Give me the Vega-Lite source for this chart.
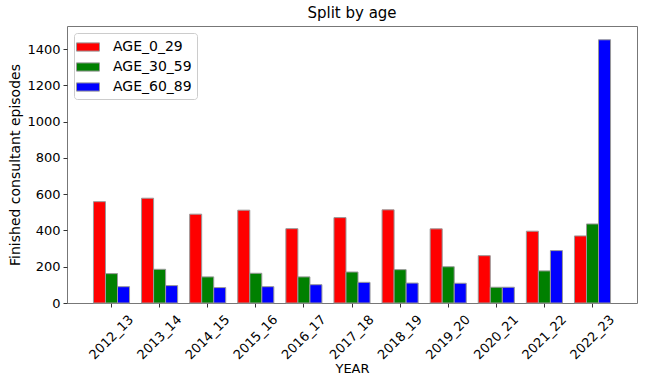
{
  "$schema": "https://vega.github.io/schema/vega-lite/v6.json",
  "width": 570,
  "height": 277,
  "autosize": {"type": "none"},
  "padding": {"left": 67, "top": 26, "right": 13, "bottom": 74},
  "title": {"text": "Split by age", "fontSize": 15, "font": "DejaVu Sans", "fontWeight": "normal", "offset": 5, "color": "black"},
  "config": {
    "font": "DejaVu Sans",
    "view": {"stroke": "#777", "strokeWidth": 1},
    "axis": {"grid": false, "labelColor": "black", "titleColor": "black", "tickColor": "#333", "domainColor": "#777", "labelFont": "DejaVu Sans", "titleFont": "DejaVu Sans", "titleFontWeight": "normal"}
  },
  "data": {"values": [
    {"year": "2012_13", "group": "AGE_0_29", "value": 559},
    {"year": "2012_13", "group": "AGE_30_59", "value": 162},
    {"year": "2012_13", "group": "AGE_60_89", "value": 90},
    {"year": "2013_14", "group": "AGE_0_29", "value": 578},
    {"year": "2013_14", "group": "AGE_30_59", "value": 186},
    {"year": "2013_14", "group": "AGE_60_89", "value": 96},
    {"year": "2014_15", "group": "AGE_0_29", "value": 490},
    {"year": "2014_15", "group": "AGE_30_59", "value": 144},
    {"year": "2014_15", "group": "AGE_60_89", "value": 85},
    {"year": "2015_16", "group": "AGE_0_29", "value": 512},
    {"year": "2015_16", "group": "AGE_30_59", "value": 164},
    {"year": "2015_16", "group": "AGE_60_89", "value": 90},
    {"year": "2016_17", "group": "AGE_0_29", "value": 410},
    {"year": "2016_17", "group": "AGE_30_59", "value": 144},
    {"year": "2016_17", "group": "AGE_60_89", "value": 101},
    {"year": "2017_18", "group": "AGE_0_29", "value": 471},
    {"year": "2017_18", "group": "AGE_30_59", "value": 171},
    {"year": "2017_18", "group": "AGE_60_89", "value": 114},
    {"year": "2018_19", "group": "AGE_0_29", "value": 514},
    {"year": "2018_19", "group": "AGE_30_59", "value": 184},
    {"year": "2018_19", "group": "AGE_60_89", "value": 110},
    {"year": "2019_20", "group": "AGE_0_29", "value": 409},
    {"year": "2019_20", "group": "AGE_30_59", "value": 200},
    {"year": "2019_20", "group": "AGE_60_89", "value": 109},
    {"year": "2020_21", "group": "AGE_0_29", "value": 261},
    {"year": "2020_21", "group": "AGE_30_59", "value": 87},
    {"year": "2020_21", "group": "AGE_60_89", "value": 87},
    {"year": "2021_22", "group": "AGE_0_29", "value": 396},
    {"year": "2021_22", "group": "AGE_30_59", "value": 177},
    {"year": "2021_22", "group": "AGE_60_89", "value": 289},
    {"year": "2022_23", "group": "AGE_0_29", "value": 370},
    {"year": "2022_23", "group": "AGE_30_59", "value": 436},
    {"year": "2022_23", "group": "AGE_60_89", "value": 1452}
  ]},
  "mark": {"type": "bar", "stroke": "#999", "strokeWidth": 1},
  "encoding": {
    "x": {
      "field": "year", "type": "nominal", "sort": null,
      "scale": {"paddingInner": 0.25, "paddingOuter": 0.55},
      "axis": {"title": "YEAR", "titleFontSize": 13, "titlePadding": 1, "labelAngle": -45, "labelAlign": "center", "labelBaseline": "middle", "labelFontSize": 13, "labelPadding": 30, "labelDx": -4, "labelDy": -4, "tickSize": 4, "domain": false}
    },
    "xOffset": {"field": "group", "type": "nominal", "scale": {"paddingInner": 0, "paddingOuter": 0}},
    "y": {
      "field": "value", "type": "quantitative",
      "scale": {"domain": [0, 1528], "nice": false},
      "axis": {"title": "Finished consultant episodes", "titleFontSize": 14, "titlePadding": 4, "values": [0, 200, 400, 600, 800, 1000, 1200, 1400], "format": "d", "labelFontSize": 13, "tickSize": 4, "labelPadding": 3, "domain": false}
    },
    "color": {
      "field": "group", "type": "nominal",
      "scale": {"domain": ["AGE_0_29", "AGE_30_59", "AGE_60_89"], "range": ["#ff0000", "#008000", "#0000ff"]},
      "legend": {
        "title": null, "orient": "none", "legendX": 7, "legendY": 7,
        "symbolType": "M-1.4,-0.5L1.4,-0.5L1.4,0.5L-1.4,0.5Z", "symbolSize": 270,
        "symbolStrokeColor": "#999", "symbolStrokeWidth": 1,
        "labelFontSize": 14, "labelColor": "black", "labelOffset": 16,
        "rowPadding": 4, "padding": 5, "fillColor": "white", "strokeColor": "#ccc", "cornerRadius": 3
      }
    }
  }
}
